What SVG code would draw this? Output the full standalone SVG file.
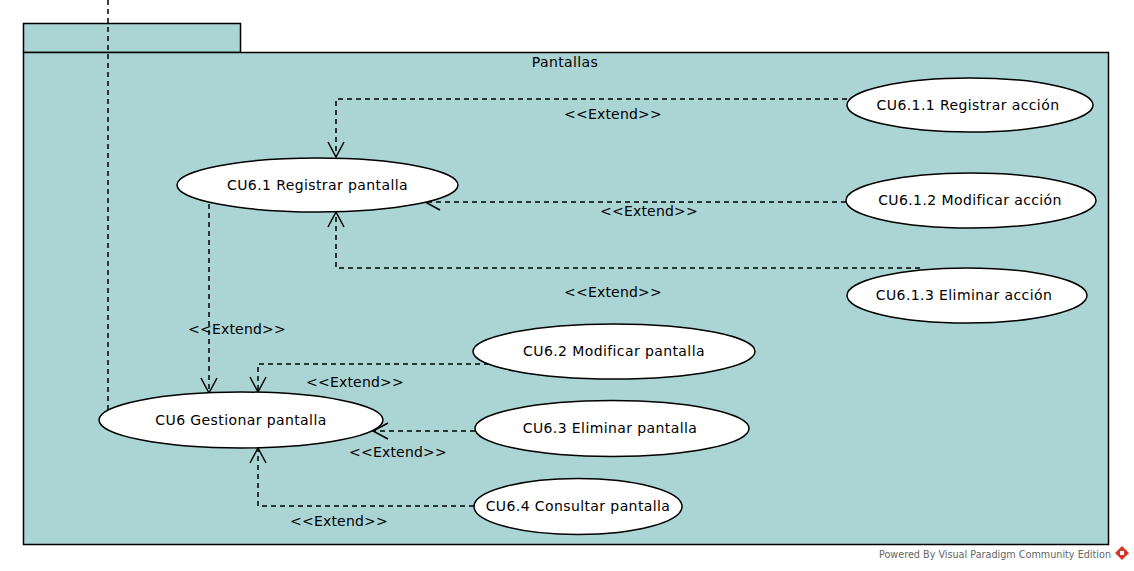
<svg xmlns="http://www.w3.org/2000/svg" width="1134" height="571" viewBox="0 0 1134 571">
<style>
.pkg{fill:#abd4d4;stroke:#000;stroke-width:1.5}
.uc{fill:#fff;stroke:#000;stroke-width:1.5}
.t{font-family:"DejaVu Sans",sans-serif;font-size:14px;fill:#000;text-anchor:middle;letter-spacing:0.4px}
.lbl{font-family:"DejaVu Sans",sans-serif;font-size:14px;fill:#000;text-anchor:middle;letter-spacing:0.2px}
.c{fill:none;stroke:#000;stroke-width:1.5;stroke-dasharray:5,4}
.ft{font-family:"DejaVu Sans",sans-serif;font-size:10px;fill:#666}
</style>
<defs>
<marker id="arr" markerUnits="userSpaceOnUse" markerWidth="20" markerHeight="20" viewBox="-16 -10 18 20" refX="0" refY="0" orient="auto">
<path d="M-15,-8 L0,0 L-15,8" fill="none" stroke="#000" stroke-width="1.5"/>
</marker>
</defs>
<rect fill="#fff" x="0" y="0" width="1134" height="571"/>
<g id="package">
<rect class="pkg" x="23.5" y="23.5" width="217" height="29"/>
<rect class="pkg" x="23.5" y="52.5" width="1085" height="492"/>
<text class="t" x="565" y="67">Pantallas</text>
</g>
<g id="connectors">
<path class="c" d="M108,0 L108,410"/>
<path class="c" d="M847,99 L336,99 L336,157" marker-end="url(#arr)"/>
<path class="c" d="M846,202 L425,202" marker-end="url(#arr)"/>
<path class="c" d="M920,268 L336,268 L336,212" marker-end="url(#arr)"/>
<path class="c" d="M209,204 L209,393" marker-end="url(#arr)"/>
<path class="c" d="M489,364 L258,364 L258,392" marker-end="url(#arr)"/>
<path class="c" d="M475,431 L373,431" marker-end="url(#arr)"/>
<path class="c" d="M474,506 L258,506 L258,448" marker-end="url(#arr)"/>
<text class="lbl" x="613" y="119">&lt;&lt;Extend&gt;&gt;</text>
<text class="lbl" x="649" y="216">&lt;&lt;Extend&gt;&gt;</text>
<text class="lbl" x="613" y="297">&lt;&lt;Extend&gt;&gt;</text>
<text class="lbl" x="237" y="334">&lt;&lt;Extend&gt;&gt;</text>
<text class="lbl" x="355" y="387">&lt;&lt;Extend&gt;&gt;</text>
<text class="lbl" x="398" y="457">&lt;&lt;Extend&gt;&gt;</text>
<text class="lbl" x="339" y="526">&lt;&lt;Extend&gt;&gt;</text>
</g>
<g id="cu6_1">
<ellipse class="uc" cx="317.5" cy="185" rx="140.5" ry="27"/>
<text class="t" x="317.5" y="190">CU6.1 Registrar pantalla</text>
</g>
<g id="cu6_1_1">
<ellipse class="uc" cx="970" cy="105" rx="123" ry="27"/>
<text class="t" x="968" y="110">CU6.1.1 Registrar acción</text>
</g>
<g id="cu6_1_2">
<ellipse class="uc" cx="971" cy="200.5" rx="125" ry="27.5"/>
<text class="t" x="970" y="205">CU6.1.2 Modificar acción</text>
</g>
<g id="cu6_1_3">
<ellipse class="uc" cx="967" cy="295.5" rx="120" ry="27.5"/>
<text class="t" x="964" y="300">CU6.1.3 Eliminar acción</text>
</g>
<g id="cu6">
<ellipse class="uc" cx="241" cy="420" rx="142" ry="28"/>
<text class="t" x="241" y="425">CU6 Gestionar pantalla</text>
</g>
<g id="cu6_2">
<ellipse class="uc" cx="614" cy="351.5" rx="141" ry="27.5"/>
<text class="t" x="614" y="356">CU6.2 Modificar pantalla</text>
</g>
<g id="cu6_3">
<ellipse class="uc" cx="612" cy="428.5" rx="137" ry="28"/>
<text class="t" x="610" y="433">CU6.3 Eliminar pantalla</text>
</g>
<g id="cu6_4">
<ellipse class="uc" cx="578" cy="506.5" rx="104" ry="28"/>
<text class="t" x="578" y="511">CU6.4 Consultar pantalla</text>
</g>
<g id="footer">
<text class="ft" x="879" y="558" textLength="232" lengthAdjust="spacingAndGlyphs">Powered By Visual Paradigm Community Edition</text>
<path d="M1122,546 L1129,553 L1122,560 L1115,553 Z" fill="#d9342b"/>
<path d="M1120,551 L1124,551 L1124,555 L1120,555 Z" fill="#fff"/>
</g>
</svg>
